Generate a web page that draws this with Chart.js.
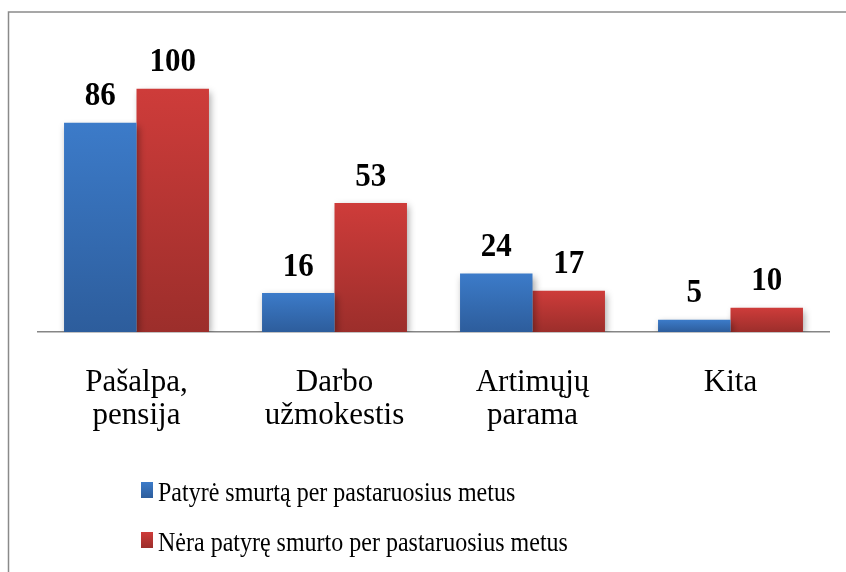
<!DOCTYPE html>
<html>
<head>
<meta charset="utf-8">
<script src="https://cdn.jsdelivr.net/npm/chart.js@4/dist/chart.umd.min.js"></script>
<style>
  html, body { margin: 0; padding: 0; background: #ffffff; }
  #wrap { width: 846px; height: 572px; position: relative; }
</style>
</head>
<body>
<div id="wrap"><canvas id="c" width="846" height="572"></canvas></div>
<script>
const categories = [["Pašalpa,", "pensija"], ["Darbo", "užmokestis"], ["Artimųjų", "parama"], ["Kita"]];
const seriesNames = ["Patyrė smurtą per pastaruosius metus", "Nėra patyrę smurto per pastaruosius metus"];
const experienced = [86, 16, 24, 5];
const notExperienced = [100, 53, 17, 10];

const palette = [
  { top: "#3C7BC9", bottom: "#2D5D9C" },
  { top: "#CE3C3A", bottom: "#9C2E2B" }
];
const SERIF = "'Liberation Serif', 'Times New Roman', serif";

function barGradient(dsIndex) {
  return function (ctx) {
    const chart = ctx.chart;
    const c = palette[dsIndex];
    if (ctx.type !== 'data' || !chart.chartArea) return c.top;
    const ys = chart.scales.y;
    const yTop = ys.getPixelForValue(ctx.raw);
    const yBase = ys.getPixelForValue(0);
    if (!isFinite(yTop) || !isFinite(yBase) || yTop === yBase) return c.top;
    const g = chart.ctx.createLinearGradient(0, yTop, 0, yBase);
    g.addColorStop(0, c.top);
    g.addColorStop(1, c.bottom);
    return g;
  };
}

function stretchedText(ctx, text, x, y, sy) {
  ctx.save();
  ctx.translate(x, y);
  ctx.scale(1, sy);
  ctx.fillText(text, 0, 0);
  ctx.restore();
}

const decorPlugin = {
  id: 'decor',
  beforeDraw(chart) {
    const ctx = chart.ctx;
    ctx.save();
    ctx.strokeStyle = '#8A8A8A';
    ctx.lineWidth = 1.5;
    ctx.beginPath();
    ctx.moveTo(8.5, 600);
    ctx.lineTo(8.5, 12);
    ctx.lineTo(900, 12);
    ctx.stroke();
    ctx.restore();
  },
  beforeDatasetsDraw(chart) {
    const ctx = chart.ctx;
    ctx.save();
    ctx.shadowColor = 'rgba(0,0,0,0.35)';
    ctx.shadowBlur = 7;
    ctx.shadowOffsetX = 2;
    ctx.shadowOffsetY = 3;
  },
  afterDatasetsDraw(chart) {
    const ctx = chart.ctx;
    ctx.restore();
    ctx.save();
    ctx.fillStyle = '#000000';
    ctx.font = 'bold 31px ' + SERIF;
    ctx.textAlign = 'center';
    ctx.textBaseline = 'alphabetic';
    chart.data.datasets.forEach((ds, i) => {
      const meta = chart.getDatasetMeta(i);
      meta.data.forEach((el, j) => {
        stretchedText(ctx, String(ds.data[j]), el.x, el.y - 17.5, 1.08);
      });
    });
    ctx.restore();
  },
  afterDraw(chart) {
    const ctx = chart.ctx;
    ctx.save();
    chart.data.datasets.forEach((ds, i) => {
      const bx = 141, by = 482 + 50 * i, bw = 12, bh = 16;
      const g = ctx.createLinearGradient(0, by, 0, by + bh);
      g.addColorStop(0, palette[i].top);
      g.addColorStop(1, palette[i].bottom);
      ctx.fillStyle = g;
      ctx.fillRect(bx, by, bw, bh);
      ctx.fillStyle = '#000000';
      ctx.font = '24px ' + SERIF;
      ctx.textAlign = 'left';
      ctx.textBaseline = 'alphabetic';
      stretchedText(ctx, ds.label, 158, 500.5 + 50 * i, 1.13);
    });
    ctx.restore();
  }
};

new Chart(document.getElementById('c'), {
  type: 'bar',
  data: {
    labels: categories,
    datasets: [
      { label: seriesNames[0], data: experienced, backgroundColor: barGradient(0) },
      { label: seriesNames[1], data: notExperienced, backgroundColor: barGradient(1) }
    ]
  },
  options: {
    responsive: false,
    animation: false,
    devicePixelRatio: 1,
    layout: { padding: { left: 37.5, right: 16.5, top: 40, bottom: 0 } },
    datasets: { bar: { barPercentage: 1, categoryPercentage: 0.732, borderWidth: 0 } },
    plugins: {
      legend: { display: false },
      tooltip: { enabled: false },
      title: { display: false }
    },
    scales: {
      x: {
        grid: { display: false, drawTicks: false },
        border: { display: true, color: '#868686', width: 1.5 },
        ticks: {
          color: '#000000',
          font: { family: SERIF, size: 31, lineHeight: 1.07 },
          padding: 34,
          maxRotation: 0,
          autoSkip: false
        },
        afterFit(scale) { scale.height = 240; }
      },
      y: {
        display: false,
        min: 0,
        max: 120
      }
    }
  },
  plugins: [decorPlugin]
});
</script>
</body>
</html>
